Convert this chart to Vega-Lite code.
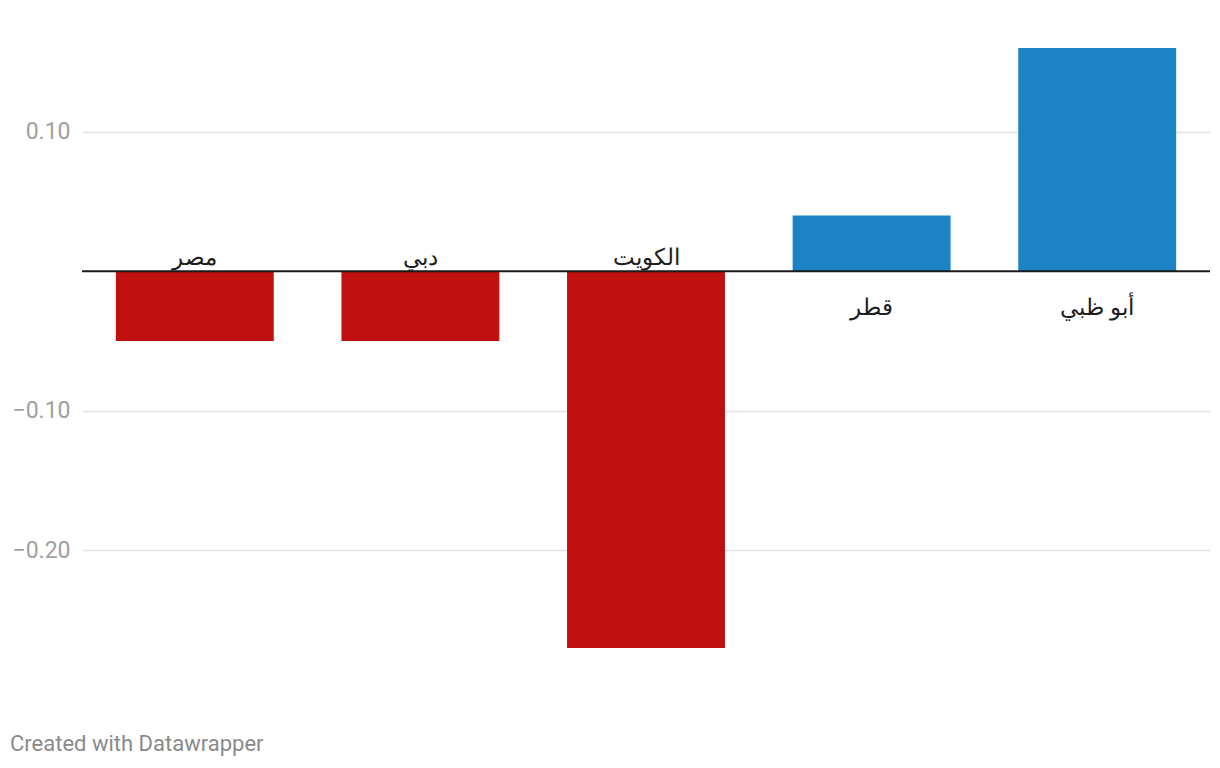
{
  "$schema": "https://vega.github.io/schema/vega-lite/v6.json",
  "autosize": "none",
  "width": 1128,
  "height": 600,
  "padding": {"left": 82, "top": 48, "right": 10, "bottom": 120},
  "background": "white",
  "config": {"view": {"stroke": null}, "font": "Roboto"},
  "title": {
    "text": "Created with Datawrapper",
    "orient": "bottom",
    "anchor": "start",
    "frame": "group",
    "dx": -72,
    "offset": 86,
    "fontSize": 22,
    "font": "Roboto",
    "fontWeight": "normal",
    "color": "#8a8a8a",
    "baseline": "top"
  },
  "data": {
    "values": [
      {"name": "مصر", "value": -0.05},
      {"name": "دبي", "value": -0.05},
      {"name": "الكويت", "value": -0.27},
      {"name": "قطر", "value": 0.04},
      {"name": "أبو ظبي", "value": 0.16}
    ]
  },
  "encoding": {
    "x": {
      "field": "name",
      "type": "nominal",
      "sort": null,
      "axis": null,
      "scale": {"paddingInner": 0.3, "paddingOuter": 0.15}
    }
  },
  "layer": [
    {
      "mark": {"type": "bar"},
      "encoding": {
        "y": {
          "field": "value",
          "type": "quantitative",
          "scale": {"domain": [-0.27, 0.16], "nice": false, "zero": true},
          "axis": {
            "values": [-0.2, -0.1, 0.1],
            "format": ".2f",
            "title": null,
            "domain": false,
            "ticks": false,
            "labelFontSize": 23,
            "labelFont": "Roboto",
            "labelColor": "#a0a0a0",
            "labelPadding": 12,
            "gridColor": "#e2e2e2",
            "gridWidth": 1.3
          }
        },
        "color": {
          "condition": {"test": "datum.value < 0", "value": "#c0100f"},
          "value": "#1c84c6"
        }
      }
    },
    {
      "data": {"values": [{"zero": 0}]},
      "mark": {"type": "rule", "color": "#1a1a1a", "strokeWidth": 2},
      "encoding": {
        "x": {"value": 0},
        "x2": {"value": 1128},
        "y": {"field": "zero", "type": "quantitative"}
      }
    },
    {
      "transform": [{"filter": "datum.value < 0"}],
      "mark": {"type": "text", "fontSize": 23, "color": "#1d1d1d", "baseline": "middle", "dy": -13, "font": "Roboto"},
      "encoding": {
        "y": {"datum": 0, "type": "quantitative"},
        "text": {"field": "name"}
      }
    },
    {
      "transform": [{"filter": "datum.value >= 0"}],
      "mark": {"type": "text", "fontSize": 23, "color": "#1d1d1d", "baseline": "middle", "dy": 37, "font": "Roboto"},
      "encoding": {
        "y": {"datum": 0, "type": "quantitative"},
        "text": {"field": "name"}
      }
    }
  ]
}
